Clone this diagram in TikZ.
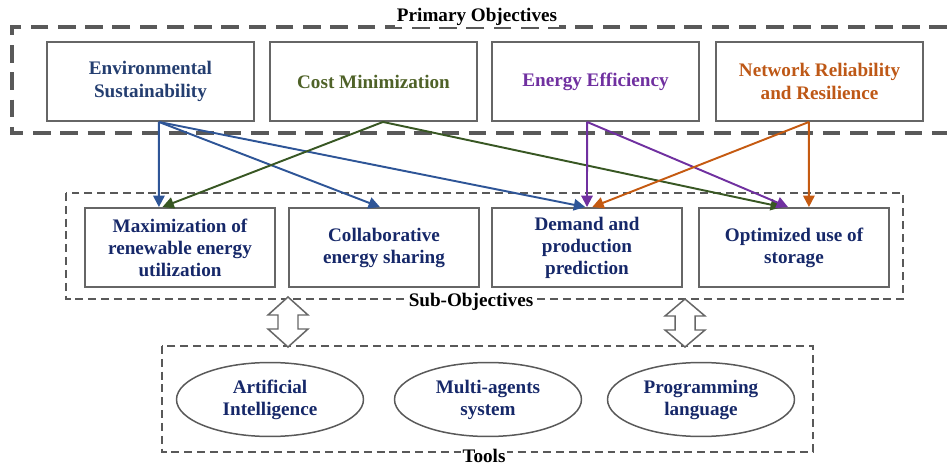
\documentclass[tikz,border=0pt]{standalone}
\usepackage{fontspec}
\setmainfont{Liberation Serif}
\usetikzlibrary{arrows.meta}
\usetikzlibrary{shapes.geometric}

\definecolor{framegray}{RGB}{89,89,89}
\definecolor{boxgray}{RGB}{102,102,102}
\definecolor{envblue}{RGB}{36,62,112}
\definecolor{costgreen}{RGB}{79,98,40}
\definecolor{effpurple}{RGB}{112,48,160}
\definecolor{netorange}{RGB}{190,88,22}
\definecolor{subnavy}{RGB}{22,40,105}
\definecolor{linkblue}{RGB}{46,85,151}
\definecolor{linkgreen}{RGB}{56,87,35}
\definecolor{linkorange}{RGB}{197,90,17}

\tikzset{
  topbox/.style={draw=boxgray,line width=1.1pt,minimum width=4.14cm,minimum height=1.58cm,
    align=center,font=\bfseries\fontsize{10.9}{13}\selectfont},
  subbox/.style={draw=boxgray,line width=1.1pt,minimum width=3.8cm,minimum height=1.58cm,
    align=center,text=subnavy,font=\bfseries\fontsize{10.9}{12.5}\selectfont},
  toolell/.style={ellipse,draw=framegray,line width=0.85pt,minimum width=3.74cm,minimum height=1.48cm,
    inner sep=0pt,align=center,text=subnavy,font=\bfseries\fontsize{10.9}{12.5}\selectfont},
  link/.style={-{Triangle[length=6.5pt,width=6.5pt]},line width=1.1pt},
  framelabel/.style={fill=white,inner sep=1pt,font=\bfseries\fontsize{10.9}{13}\selectfont},
}

\begin{document}
\begin{tikzpicture}[x=0.02cm,y=-0.02cm]
    \useasboundingbox (0,0) rectangle (947,466);

    % frames
    \draw[framegray,dashed,line width=2.2pt,dash pattern=on 10pt off 5.5pt] (947,27) -- (12,27) -- (12,133) -- (947,133);
    \draw[framegray,line width=0.85pt,dash pattern=on 4.5pt off 2.8pt] (66,193) rectangle (903,299);
    \draw[framegray,line width=0.85pt,dash pattern=on 4.5pt off 2.8pt] (162,346) rectangle (813,452);

    % primary objectives
    \node[topbox,text=envblue] (env) at (150.5,81.5) {Environmental\\Sustainability};
    \node[topbox,text=costgreen] (cost) at (373.5,81.5) {Cost Minimization};
    \node[topbox,text=effpurple] (eff) at (595.5,81.5) {Energy Efficiency};
    \node[topbox,text=netorange] (net) at (819.5,81.5) {Network Reliability\\and Resilience};

    % sub-objectives
    \node[subbox] (maxre) at (180,247.5) {Maximization of\\renewable energy\\utilization};
    \node[subbox] (share) at (384,247.5) {Collaborative\\energy sharing};
    \node[subbox] (pred) at (587,247.5) {Demand and\\production\\prediction};
    \node[subbox] (stor) at (794,247.5) {Optimized use of\\storage};

    % tools
    \node[toolell] (ai) at (270,399.5) {Artificial\\Intelligence};
    \node[toolell] (mas) at (488,399.5) {Multi-agents\\system};
    \node[toolell] (prog) at (701,399.5) {Programming\\language};

    % frame labels
    \node[framelabel,anchor=south] (primlbl) at (477,27.5) {Primary Objectives};
    \node[framelabel] (sublbl) at (471,302) {Sub-Objectives};
    \node[framelabel] (toollbl) at (484,456) {Tools};

    % links
    \draw[link,linkblue] ([xshift=4.8pt]env.south) -- ([xshift=-12pt]maxre.north);
    \draw[link,linkblue] ([xshift=4.8pt]env.south) -- ([xshift=-2.3pt]share.north);
    \draw[link,linkblue] ([xshift=4.8pt]env.south) -- ([xshift=-1pt]pred.north);
    \draw[link,linkgreen] ([xshift=5.4pt]cost.south) -- ([xshift=-10pt]maxre.north);
    \draw[link,linkgreen] ([xshift=5.4pt]cost.south) -- ([xshift=-6.8pt]stor.north);
    \draw[link,effpurple] ([xshift=-4.8pt]eff.south) -- ([xshift=0pt]pred.north);
    \draw[link,effpurple] ([xshift=-4.8pt]eff.south) -- ([xshift=-3.4pt]stor.north);
    \draw[link,linkorange] ([xshift=-6pt]net.south) -- ([xshift=3pt]pred.north);
    \draw[link,linkorange] ([xshift=-6pt]net.south) -- ([xshift=8.5pt]stor.north);

    % hollow double arrows between sub-objectives and tools
    \draw[boxgray,fill=white,line width=0.85pt,line join=miter] (288,297) -- (308,315) -- (298,315) -- (298,329) -- (308,329)
        -- (288,347) -- (268,329) -- (278,329) -- (278,315) -- (268,315) -- cycle;
    \draw[boxgray,fill=white,line width=0.85pt,line join=miter] (685,299) -- (705,316) -- (695,316) -- (695,330) -- (705,330)
        -- (685,347) -- (665,330) -- (675,330) -- (675,316) -- (665,316) -- cycle;
\end{tikzpicture}
\end{document}
